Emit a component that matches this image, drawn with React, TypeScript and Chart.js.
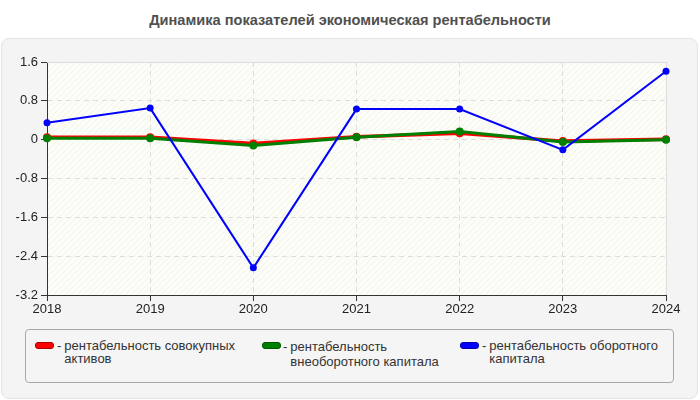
import React, { useEffect, useRef } from "react";
import { Chart, registerables } from "chart.js";

Chart.register(...registerables);

const categories = ["2018", "2019", "2020", "2021", "2022", "2023", "2024"];
const seriesAssets = [0.05, 0.05, -0.08, 0.06, 0.13, -0.03, 0.01];
const seriesNonCurrent = [0.03, 0.03, -0.12, 0.05, 0.17, -0.05, 0.0];
const seriesCurrent = [0.35, 0.65, -2.64, 0.63, 0.63, -0.21, 1.41];
const seriesNames = [
  "рентабельность совокупных активов",
  "рентабельность внеоборотного капитала",
  "рентабельность оборотного капитала",
];
const legendLines = [
  ["рентабельность совокупных", "активов"],
  ["рентабельность", "внеоборотного капитала"],
  ["рентабельность оборотного", "капитала"],
];
const seriesColors = ["#ff0000", "#008000", "#0000ff"];
const yMin = -3.2;
const yMax = 1.6;
const yStep = 0.8;
const titleText = "Динамика показателей экономическая рентабельности";

const FONT = "'Liberation Sans', Arial, sans-serif";

function makePattern(ctx: CanvasRenderingContext2D) {
  const c = document.createElement("canvas");
  c.width = 6;
  c.height = 6;
  const p = c.getContext("2d")!;
  p.fillStyle = "#fdfdf8";
  p.fillRect(0, 0, 6, 6);
  p.strokeStyle = "rgba(0,0,0,0.04)";
  p.lineWidth = 1;
  p.beginPath();
  p.moveTo(0, 6);
  p.lineTo(6, 0);
  p.moveTo(-3, 3);
  p.lineTo(3, -3);
  p.moveTo(3, 9);
  p.lineTo(9, 3);
  p.stroke();
  return ctx.createPattern(c, "repeat");
}

const bgPlugin = {
  id: "plotBg",
  beforeDraw(chart: any) {
    const { ctx, chartArea } = chart;
    if (!chartArea) return;
    ctx.save();
    ctx.fillStyle = makePattern(ctx) || "#fdfdf8";
    ctx.fillRect(chartArea.left, chartArea.top, chartArea.right - chartArea.left, chartArea.bottom - chartArea.top);
    ctx.restore();
  },
  beforeDatasetsDraw(chart: any) {
    const { ctx, chartArea } = chart;
    ctx.save();
    ctx.strokeStyle = "#dddddd";
    ctx.lineWidth = 1;
    ctx.beginPath();
    ctx.moveTo(chartArea.left, chartArea.top + 0.5);
    ctx.lineTo(chartArea.right + 0.5, chartArea.top + 0.5);
    ctx.lineTo(chartArea.right + 0.5, chartArea.bottom);
    ctx.stroke();
    ctx.restore();
  },
};

export default function App() {
  const ref = useRef<HTMLCanvasElement>(null);

  useEffect(() => {
    document.body.style.margin = "0";
    const canvas = ref.current!;
    const chart = new Chart(canvas, {
      type: "line",
      data: {
        labels: categories,
        datasets: [
          {
            label: seriesNames[2],
            data: seriesCurrent,
            borderColor: seriesColors[2],
            backgroundColor: seriesColors[2],
            borderWidth: 2,
            pointRadius: 3.5,
            pointBorderWidth: 0,
            tension: 0,
            order: 0,
          },
          {
            label: seriesNames[1],
            data: seriesNonCurrent,
            borderColor: seriesColors[1],
            backgroundColor: seriesColors[1],
            borderWidth: 3,
            pointRadius: 4,
            pointBorderWidth: 0,
            tension: 0,
            order: 1,
          },
          {
            label: seriesNames[0],
            data: seriesAssets,
            borderColor: seriesColors[0],
            backgroundColor: seriesColors[0],
            borderWidth: 3.5,
            pointRadius: 4,
            pointBorderWidth: 0,
            tension: 0,
            order: 2,
          },
        ],
      },
      options: {
        animation: false,
        responsive: false,
        maintainAspectRatio: false,
        layout: { padding: { left: 0, top: 62, right: 34, bottom: 80 } },
        plugins: {
          legend: { display: false },
          title: { display: false },
          tooltip: { enabled: false },
        },
        scales: {
          x: {
            type: "category",
            offset: false,
            afterFit: (s: any) => {
              s.height = 25;
            },
            grid: {
              color: "#dddddd",
              tickColor: "#333333",
              tickLength: 6,
              tickBorderDash: [],
              offset: false,
            },
            border: { color: "#333333", width: 1, dash: [5, 4] },
            ticks: {
              color: "#222222",
              font: { family: FONT, size: 13 },
              padding: 1,
              maxRotation: 0,
              autoSkip: false,
            },
          },
          y: {
            min: yMin,
            max: yMax,
            afterFit: (s: any) => {
              s.width = 47;
            },
            grid: {
              color: "#dddddd",
              tickColor: "#333333",
              tickLength: 6,
              tickBorderDash: [],
            },
            border: { color: "#333333", width: 1, dash: [5, 4] },
            ticks: {
              stepSize: yStep,
              color: "#222222",
              font: { family: FONT, size: 13 },
              padding: 3,
              callback: (v: any) => String(Number(Number(v).toFixed(1))),
            },
          },
        },
      },
      plugins: [bgPlugin],
    } as any);
    return () => chart.destroy();
  }, []);

  const itemPos = [
    { sw: 35, dash: 57, lh: 13 },
    { sw: 262, dash: 283, lh: 15 },
    { sw: 460, dash: 482, lh: 13 },
  ];
  const swatchBorder = ["#b00000", "#005a00", "#0000b0"];

  return (
    <div style={{ position: "fixed", left: 0, top: 0, width: 700, height: 400, background: "#ffffff", fontFamily: FONT, overflow: "hidden" }}>
      <div style={{ position: "absolute", left: 0, top: 11, width: 700, textAlign: "center", fontWeight: "bold", fontSize: 14.6, color: "#505050", lineHeight: "18px" }}>
        {titleText}
      </div>
      <div style={{ position: "absolute", left: 1, top: 38, width: 697, height: 361, boxSizing: "border-box", border: "1px solid #e3e3e3", borderRadius: 8, background: "#f4f4f4" }} />
      <canvas ref={ref} width={700} height={400} style={{ position: "absolute", left: 0, top: 0, width: 700, height: 400 }} />
      <div style={{ position: "absolute", left: 25, top: 329, width: 649, height: 54, boxSizing: "border-box", border: "1px solid #a8a8a8", borderRadius: 4, background: "#f5f5f5" }}>
        {legendLines.map((lines, i) => (
          <React.Fragment key={i}>
            <div style={{ position: "absolute", left: itemPos[i].sw - 26, top: 12, width: 19, height: 7, boxSizing: "border-box", borderRadius: 3, background: seriesColors[i], border: `1px solid ${swatchBorder[i]}` }} />
            <div style={{ position: "absolute", left: itemPos[i].dash - 26, top: 9, display: "flex", fontSize: 13, color: "#333333", lineHeight: `${itemPos[i].lh}px` }}>
              <span style={{ marginRight: 3 }}>-</span>
              <div>
                {lines.map((l, j) => (
                  <div key={j} style={{ whiteSpace: "nowrap" }}>{l}</div>
                ))}
              </div>
            </div>
          </React.Fragment>
        ))}
      </div>
    </div>
  );
}
